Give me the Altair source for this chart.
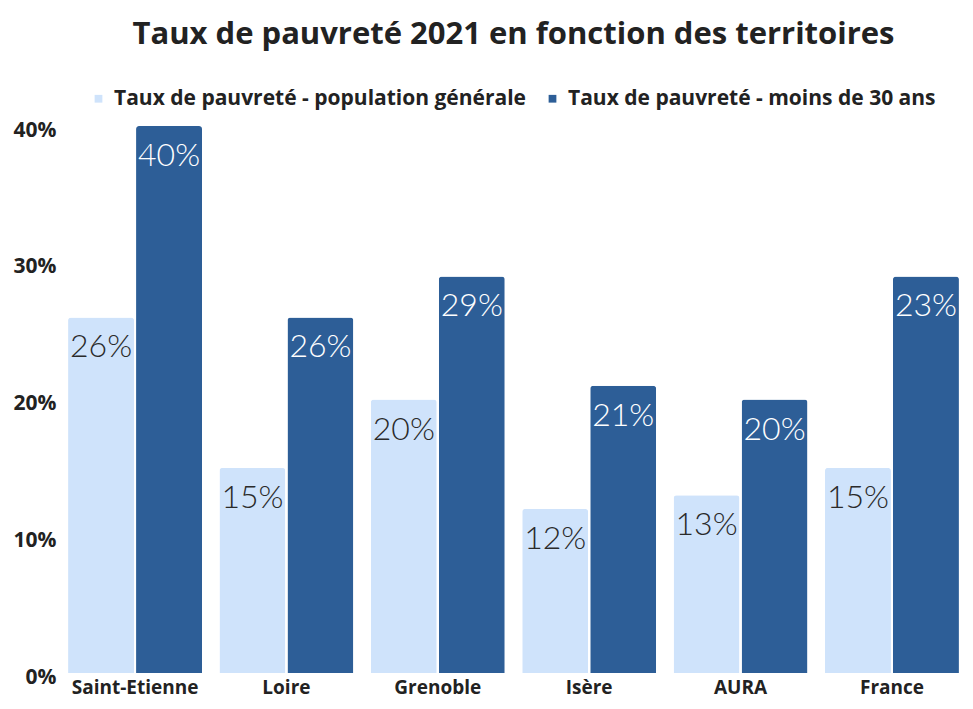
import altair as alt
import pandas as pd

territoires = ["Saint-Etienne", "Loire", "Grenoble", "Isère", "AURA", "France"]
series = ["Taux de pauvreté - population générale", "Taux de pauvreté - moins de 30 ans"]
general = [26, 15, 20, 12, 13, 15]
moins30 = [40, 26, 29, 21, 20, 29]
labels_general = ["26%", "15%", "20%", "12%", "13%", "15%"]
labels_moins30 = ["40%", "26%", "29%", "21%", "20%", "23%"]
colors = ["#cfe3fb", "#2d5e97"]

rows = []
for i, t in enumerate(territoires):
    rows.append({"territoire": t, "serie": series[0], "valeur": general[i], "label": labels_general[i]})
    rows.append({"territoire": t, "serie": series[1], "valeur": moins30[i], "label": labels_moins30[i]})
df = pd.DataFrame(rows)

BOLD = "Open Sans"
LIGHT = "Lato"

x = alt.X("territoire:N", sort=territoires, title=None,
          scale=alt.Scale(paddingInner=0.115, paddingOuter=0.04),
          axis=alt.Axis(labelFont=BOLD, labelFontWeight="bold", labelFontSize=19,
                        labelColor="#222222", ticks=False, domain=False, labelAngle=0,
                        labelPadding=5))
xo = alt.XOffset("serie:N", sort=series, scale=alt.Scale(paddingInner=0.03))
y = alt.Y("valeur:Q", title=None,
          scale=alt.Scale(domain=[0, 40], nice=False),
          axis=alt.Axis(values=[0, 10, 20, 30, 40], labelExpr="datum.value + '%'",
                        labelFont=BOLD, labelFontWeight="bold", labelFontSize=21,
                        labelColor="#222222", grid=False, domain=False, ticks=False,
                        labelPadding=6, labelBaseline="middle", labelOffset=4))

bars = alt.Chart(df).mark_bar(cornerRadiusTopLeft=3, cornerRadiusTopRight=3).encode(
    x=x, xOffset=xo, y=y,
    color=alt.Color("serie:N", sort=series, title=None,
                    scale=alt.Scale(domain=series, range=colors),
                    legend=alt.Legend(orient="none", legendX=26, legendY=-38, direction="horizontal",
                                      symbolType="square", symbolSize=60, symbolStrokeWidth=0,
                                      labelFont=BOLD, labelFontWeight="bold", labelFontSize=21,
                                      labelColor="#222222", labelLimit=600, columnPadding=15,
                                      labelOffset=5))
)

text = alt.Chart(df).mark_text(baseline="middle", dy=30, font=LIGHT, fontWeight=300, fontSize=32).encode(
    x=x, xOffset=xo, y=y,
    text="label:N",
    color=alt.Color("serie:N", sort=series, scale=alt.Scale(domain=series, range=["#2a2a2a", "#ffffff"]), legend=None),
)

chart = alt.layer(bars, text).resolve_scale(color="independent").properties(
    width=903, height=547,
    autosize=alt.AutoSizeParams(type="none"),
    padding={"left": 54, "top": 118, "right": 0, "bottom": 28},
    title=alt.TitleParams("Taux de pauvreté 2021 en fonction des territoires",
                          font=BOLD, fontSize=31, fontWeight="bold", color="#222222",
                          anchor="middle", offset=37),
).configure_view(stroke=None)

chart.save("out.html", embed_options={"renderer": "svg", "actions": False})
